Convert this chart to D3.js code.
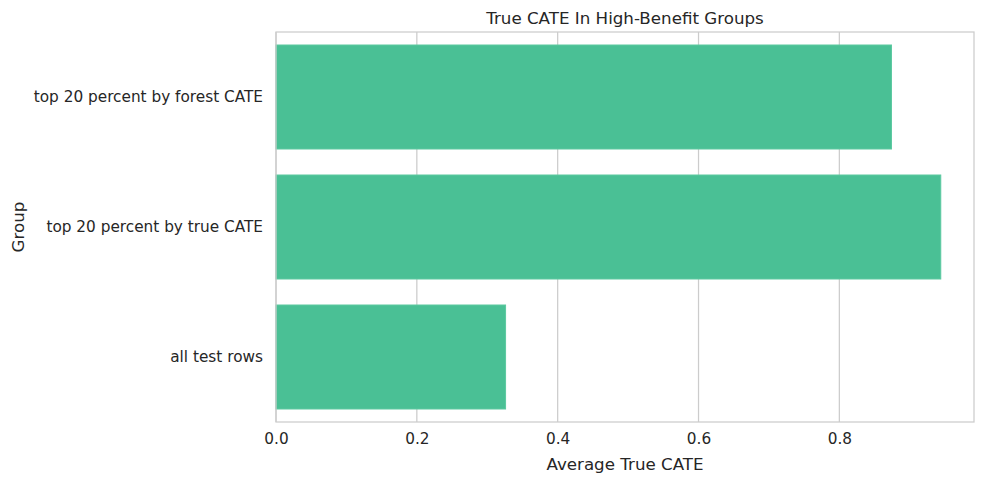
<!DOCTYPE html>
<html>
<head>
<meta charset="utf-8">
<script src="https://cdn.jsdelivr.net/npm/d3@7"></script>
<style>
  body { margin: 0; background: #fff; }
  svg { font-family: "DejaVu Sans", sans-serif; }
</style>
</head>
<body>
<svg id="chart" width="984" height="484"></svg>
<script>
// data
var groups = ["top 20 percent by forest CATE", "top 20 percent by true CATE", "all test rows"];
var avgTrueCate = [0.874, 0.944, 0.326];
var xTicks = [0.0, 0.2, 0.4, 0.6, 0.8];

var svg = d3.select("svg#chart");
var margin = {top: 32, right: 10, bottom: 62, left: 276};
var width = +svg.attr("width") - margin.left - margin.right;
var height = +svg.attr("height") - margin.top - margin.bottom;
var textCol = "#262626", gridCol = "#cccccc", barCol = "#4ac095";

var x = d3.scaleLinear()
    .domain([0, d3.max(avgTrueCate) * 1.05])
    .range([0, width]);
var y = d3.scaleBand()
    .domain(groups)
    .range([0, height])
    .paddingInner(0.2)
    .paddingOuter(0.1);

var g = svg.append("g")
  .attr("transform", `translate(${margin.left},${margin.top})`);

// grid
g.append("g")
  .selectAll("line")
  .data(xTicks)
  .enter().append("line")
  .attr("x1", d => x(d)).attr("x2", d => x(d))
  .attr("y1", 0).attr("y2", height)
  .attr("stroke", gridCol)
  .attr("stroke-width", 1.25);

// bars
g.append("g")
  .selectAll("rect")
  .data(groups)
  .enter().append("rect")
  .attr("x", 0)
  .attr("y", d => y(d))
  .attr("width", (d, i) => x(avgTrueCate[i]))
  .attr("height", y.bandwidth())
  .attr("fill", barCol)
  .attr("stroke", "#5cc9a0")
  .attr("stroke-width", 1);

// frame
g.append("rect")
  .attr("x", 0).attr("y", 0)
  .attr("width", width).attr("height", height)
  .attr("fill", "none")
  .attr("stroke", gridCol)
  .attr("stroke-width", 1.25);

// x axis
var xa = g.append("g")
  .attr("transform", `translate(0,${height})`)
  .call(d3.axisBottom(x).tickValues(xTicks).tickFormat(d3.format(".1f")).tickSize(0).tickPadding(11));
xa.select(".domain").remove();
xa.selectAll("text").attr("fill", textCol).attr("font-size", "15.3px").attr("font-family", "DejaVu Sans");

// y axis
var ya = g.append("g")
  .call(d3.axisLeft(y).tickSize(0).tickPadding(13));
ya.select(".domain").remove();
ya.selectAll("text").attr("fill", textCol).attr("font-size", "15.3px").attr("font-family", "DejaVu Sans");

// labels
g.append("text")
  .attr("x", width / 2)
  .attr("y", height + 48)
  .attr("text-anchor", "middle")
  .attr("fill", textCol)
  .attr("font-size", "16.7px")
  .text("Average True CATE");

g.append("text")
  .attr("transform", "rotate(-90)")
  .attr("x", -height / 2)
  .attr("y", -252)
  .attr("text-anchor", "middle")
  .attr("fill", textCol)
  .attr("font-size", "16.7px")
  .text("Group");

g.append("text")
  .attr("x", width / 2)
  .attr("y", -8)
  .attr("text-anchor", "middle")
  .attr("fill", textCol)
  .attr("font-size", "16.7px")
  .text("True CATE In High-Benefit Groups");
</script>
</body>
</html>
